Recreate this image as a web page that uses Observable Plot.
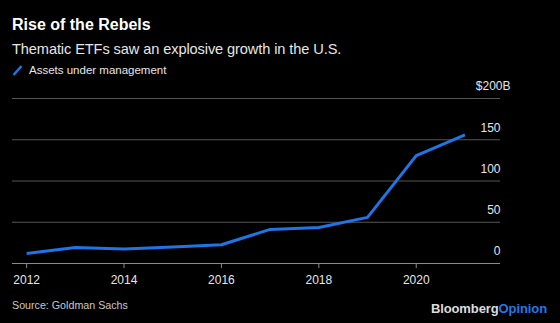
<!DOCTYPE html>
<html>
<head>
<meta charset="utf-8">
<script src="https://cdn.jsdelivr.net/npm/d3@7"></script>
<script src="https://cdn.jsdelivr.net/npm/@observablehq/plot@0.6"></script>
<style>
  html, body { margin: 0; padding: 0; background: #000; }
  body { width: 560px; height: 323px; position: relative; overflow: hidden; font-family: "Liberation Sans", Arial, sans-serif; color: #fff; }
  .title { position: absolute; left: 12px; top: 16px; font-size: 16px; font-weight: bold; color: #fff; }
  .subtitle { position: absolute; left: 12px; top: 41px; font-size: 14.6px; letter-spacing: -0.1px; color: #e6e6e6; }
  .legend { position: absolute; left: 12px; top: 64px; font-size: 11.5px; color: #e6e6e6; display: flex; align-items: center; }
  .legend svg { margin-right: 6px; }
  .source { position: absolute; left: 12px; top: 299px; font-size: 10.7px; color: #c8c8c8; }
  .logo { position: absolute; right: 13px; top: 301px; font-size: 13px; font-weight: bold; color: #dcdcdc; letter-spacing: -0.1px; }
  .logo span { color: #1f7ae8; }
  #chart { position: absolute; left: 0; top: 80px; }
</style>
</head>
<body>
<div class="title">Rise of the Rebels</div>
<div class="subtitle">Thematic ETFs saw an explosive growth in the U.S.</div>
<div class="legend"><svg width="11" height="11"><line x1="1.5" y1="10" x2="9.5" y2="1" stroke="#1f74e6" stroke-width="2.5"/></svg>Assets under management</div>
<div id="chart"></div>
<div class="source">Source: Goldman Sachs</div>
<div class="logo">Bloomberg<span>Opinion</span></div>
<script>
const years = [2012, 2013, 2014, 2015, 2016, 2017, 2018, 2019, 2020, 2021];
const assets = [12, 19.4, 17.5, 20, 22.7, 41.3, 43.7, 55.9, 130.8, 155.9];
const yTicks = [0, 50, 100, 150, 200];
const yTickLabels = ["0", "50", "100", "150", "$200B"];
const xTicks = [2012, 2014, 2016, 2018, 2020];

const data = years.map((y, i) => ({year: y, value: assets[i]}));
const labelData = yTicks.map((v, i) => ({value: v, label: yTickLabels[i]}));
const topLabel = labelData.filter(d => d.value === 200);
const otherLabels = labelData.filter(d => d.value !== 200);

const xDomain = [2011.71, 2021.73];

const plot = Plot.plot({
  width: 560,
  height: 212,
  marginLeft: 12,
  marginRight: 60,
  marginTop: 18,
  marginBottom: 29,
  style: {background: "transparent", color: "#e6e6e6", fontFamily: "Liberation Sans, Arial, sans-serif", fontSize: "12px"},
  x: {domain: xDomain, axis: null},
  y: {domain: [0, 200], axis: null},
  marks: [
    Plot.ruleY(yTicks.filter(d => d > 0), {stroke: "#555", strokeWidth: 1}),
    Plot.ruleY([0], {stroke: "#8a8a8a", strokeWidth: 1}),
    Plot.axisX({ticks: xTicks, tickFormat: d => String(d), tickSize: 5, tickPadding: 7, label: null, stroke: "#8a8a8a", fill: "#e6e6e6", fontSize: 12}),
    Plot.line(data, {x: "year", y: "value", stroke: "#1f74e6", strokeWidth: 3, strokeLinejoin: "round", strokeLinecap: "butt"}),
    Plot.text(otherLabels, {x: xDomain[1], y: "value", text: "label", textAnchor: "end", dy: -12, fill: "#e6e6e6", fontSize: 12}),
    Plot.text(topLabel, {x: xDomain[1], y: "value", text: "label", textAnchor: "end", dy: -12, dx: 10, fill: "#e6e6e6", fontSize: 12})
  ]
});
document.getElementById("chart").appendChild(plot);
</script>
</body>
</html>
